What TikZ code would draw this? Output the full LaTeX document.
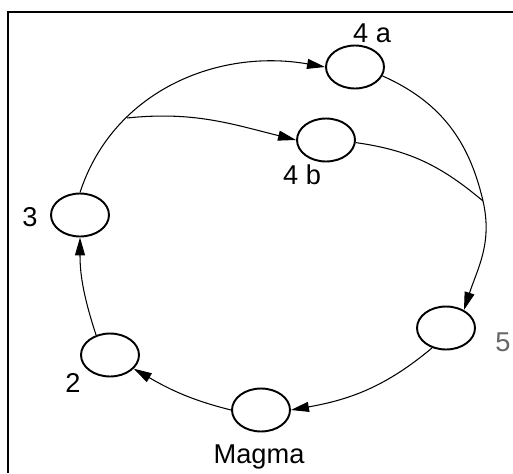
\documentclass[tikz,border=0pt]{standalone}
\usepackage{fontspec}
\setmainfont{Liberation Sans}
\usetikzlibrary{shapes.geometric,arrows.meta}
\begin{document}
\begin{tikzpicture}[x=0.02cm,y=-0.02cm,
  stage/.style={draw,ellipse,line width=1.1pt,minimum width=1.16cm,minimum height=0.86cm,inner sep=0pt},
  lbl/.style={font=\fontsize{15.5}{18}\selectfont,inner sep=0pt},
  flow/.style={line width=0.6pt,-{Triangle[length=3.6mm,width=2mm]}},
  plain/.style={line width=0.6pt}]
\useasboundingbox (0,0) rectangle (513,473);
\draw[line width=1.3pt] (513,12) -- (8,12) -- (8,473);
% stages
\node[stage] (s4a) at (355,67) {};
\node[stage] (s4b) at (326,140) {};
\node[stage] (s3) at (80,215) {};
\node[stage] (s2) at (110,355) {};
\node[stage] (sm) at (261,410) {};
\node[stage] (s5) at (446,328) {};
% labels
\node[lbl] (l4a) at (372,33) {4 a};
\node[lbl] (l4b) at (302,175) {4 b};
\node[lbl] (l3) at (30,217) {3};
\node[lbl] (l2) at (73,383) {2};
\node[lbl,text=black!60] (l5) at (503,342) {5};
\node[lbl] (lm) at (259,457) {Magma};
% junction points
\coordinate (br) at (127,118);
\coordinate (jn) at (483,201);
% connectors
\draw[flow] (s3.north) to[out=72,in=170] (s4a.west);
\draw[flow] (br) to[out=6,in=166] (s4b.west);
\draw[flow] (s4a.-18) to[out=-24,in=103] (jn) to[out=-77,in=72] (s5.45);
\draw[plain] (s4b.-5) to[out=-8,in=140] (jn);
\draw[flow] (s5.-125) to[out=-140,in=10] (sm.east);
\draw[flow] (sm.west) to[out=166,in=-30] (s2.-30);
\draw[flow] (s2.125) to[out=108,in=-90] (s3.south);
\end{tikzpicture}
\end{document}
